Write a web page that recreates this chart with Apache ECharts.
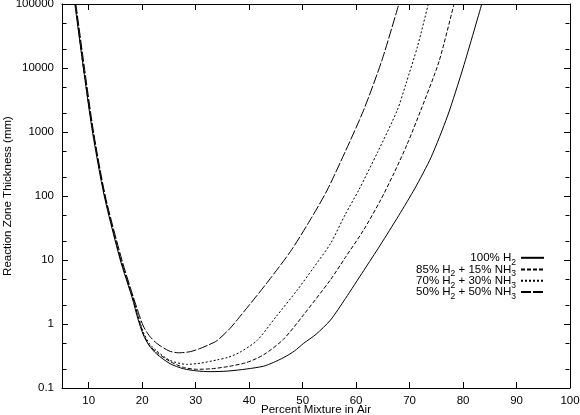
<!DOCTYPE html>
<html><head><meta charset="utf-8">
<script src="https://cdn.jsdelivr.net/npm/echarts@6/dist/echarts.min.js"></script>
<style>html,body{margin:0;padding:0;background:#fff}#c{width:580px;height:415px}</style>
</head><body><div id="c"></div>
<script>
// ---- data ----
const xTicks = [10, 20, 30, 40, 50, 60, 70, 80, 90, 100];
const yMinorTicks = [0.2, 0.5, 2, 5, 20, 50, 200, 500, 2000, 5000, 20000, 50000];
const seriesNames = ['100% H2', '85% H2 + 15% NH3', '70% H2 + 30% NH3', '50% H2 + 50% NH3'];
const legendRich = [
  '{n|100% H}{s|2}',
  '{n|85% H}{s|2}{n| + 15% NH}{s|3}',
  '{n|70% H}{s|2}{n| + 30% NH}{s|3}',
  '{n|50% H}{s|2}{n| + 50% NH}{s|3}'
];
const h2_100 = [[7.4,100000],[9.0,10000],[10.7,1000],[12.9,100],[15.9,10],[18.1,2.6],[19.2,1.2],[20.2,0.68],[21.3,0.46],[22.7,0.34],[25.2,0.24],[27.7,0.2],[30.2,0.185],[32.7,0.18],[36,0.184],[39.5,0.198],[42.7,0.219],[44.5,0.25],[46.5,0.3],[48.5,0.38],[50.2,0.5],[52.5,0.69],[55.2,1.15],[58,2.5],[61.4,6.8],[64.5,17],[68.0,50],[71,132],[74,400],[77.1,1780],[80,10000],[83.5,100000]];
const h2_85 = [[7.5,100000],[9.0,10000],[10.8,1000],[13.0,100],[16.0,10],[18.2,2.6],[19.3,1.25],[20.2,0.7],[21.3,0.47],[22.7,0.36],[25.2,0.26],[27.7,0.21],[30.2,0.196],[33,0.2],[36,0.216],[39.5,0.25],[42.7,0.33],[46.4,0.575],[50.2,1.4],[55.2,4.9],[58,11],[61.4,29.4],[64.6,87],[67.1,229],[69.5,630],[72.1,2190],[75.5,12600],[78.3,100000]];
const h2_70 = [[7.5,100000],[9.1,10000],[10.8,1000],[13.0,100],[16.0,10],[18.2,2.7],[19.3,1.3],[20.2,0.75],[21.3,0.5],[22.7,0.38],[25.2,0.27],[28.3,0.234],[31,0.245],[34,0.275],[36,0.3],[38.3,0.363],[41.45,0.55],[45,1.29],[49.0,3.4],[52,7.5],[55.2,18],[58,52],[60.5,124],[64,480],[67.7,2190],[69.3,5600],[71.5,22000],[73.5,100000]];
const h2_50 = [[7.6,100000],[9.2,10000],[10.9,1000],[13.1,100],[16.2,10],[18.3,2.7],[19.3,1.5],[20.2,0.93],[21.3,0.66],[22.7,0.5],[25,0.38],[26.8,0.355],[29,0.37],[31,0.42],[32.5,0.475],[34,0.55],[36.4,0.85],[38.5,1.38],[41.4,2.75],[43.6,4.7],[47.7,13.5],[51.4,42],[54.6,124],[58,500],[61.4,2190],[64.8,13000],[68.0,100000]];

const seriesData = [h2_100, h2_85, h2_70, h2_50];
const dashes = ['solid', [4, 2], [2, 2], [10, 2]];

const FONT = 'Liberation Sans, Arial, Helvetica, sans-serif';
const X_MIN = 5, X_MAX = 100, Y_MIN = 0.1, Y_MAX = 100000;
const tickStyle = { color: '#000', width: 1 };

const chart = echarts.init(document.getElementById('c'), null, { renderer: 'canvas' });

const series = seriesData.map((d, i) => ({
  name: seriesNames[i],
  type: 'line',
  data: d,
  showSymbol: false,
  symbol: 'none',
  smooth: 0.25,
  animation: false,
  lineStyle: { color: '#000', width: 1, type: dashes[i] },
  itemStyle: { color: '#000' },
  z: 3
}));

series.push({
  type: 'custom',
  name: 'minorTicks',
  silent: true,
  animation: false,
  clip: false,
  data: yMinorTicks.map(v => [X_MIN, v]),
  renderItem: (params, api) => {
    const cs = params.coordSys;
    const y = Math.round(api.coord([X_MIN, api.value(1)])[1]) + 0.5;
    const xl = Math.round(cs.x) + 0.5;
    const xr = Math.round(cs.x + cs.width) - 0.5;
    return {
      type: 'group',
      children: [
        { type: 'line', shape: { x1: xl, y1: y, x2: xl + 4, y2: y }, style: { stroke: '#000', lineWidth: 1 } },
        { type: 'line', shape: { x1: xr - 4, y1: y, x2: xr, y2: y }, style: { stroke: '#000', lineWidth: 1 } }
      ]
    };
  }
});

const rich = {
  n: { fontFamily: FONT, fontSize: 11.5, color: '#000', lineHeight: 12, verticalAlign: 'top' },
  s: { fontFamily: FONT, fontSize: 8.5, color: '#000', lineHeight: 9, padding: [6, 0, 0, 0], verticalAlign: 'top' }
};
const rowCenters = [259.3, 271, 282.3, 293.6];
const legends = seriesNames.map((nm, i) => ({
  data: [nm],
  right: 35,
  top: rowCenters[i] - 7.5,
  orient: 'vertical',
  align: 'right',
  padding: 0,
  itemGap: 0,
  itemWidth: 23,
  itemHeight: 12,
  selectedMode: false,
  itemStyle: { opacity: 0 },
  formatter: () => legendRich[i],
  textStyle: { fontFamily: FONT, fontSize: 11.5, color: '#000', rich: rich }
}));

const option = {
  backgroundColor: '#fff',
  animation: false,
  grid: { left: 62, right: 10, top: 4, bottom: 27, containLabel: false, outerBoundsMode: 'none' },
  legend: legends,
  xAxis: [{
    type: 'value', min: X_MIN, max: X_MAX, position: 'bottom',
    name: 'Percent Mixture in Air', nameLocation: 'middle', nameGap: 16, nameMoveOverlap: false,
    nameTextStyle: { fontFamily: FONT, fontSize: 11.5, color: '#000' },
    axisLine: { show: true, onZero: false, lineStyle: { color: '#000', width: 1 } },
    axisTick: { show: true, inside: true, length: 6, lineStyle: tickStyle, customValues: xTicks },
    axisLabel: { show: true, color: '#000', fontFamily: FONT, fontSize: 11.5, margin: 7, customValues: xTicks },
    splitLine: { show: false }
  }, {
    type: 'value', min: X_MIN, max: X_MAX, position: 'top',
    axisLine: { show: true, onZero: false, lineStyle: { color: '#000', width: 1 } },
    axisTick: { show: true, inside: true, length: 6, lineStyle: tickStyle, customValues: xTicks },
    axisLabel: { show: false, customValues: xTicks },
    splitLine: { show: false }
  }],
  yAxis: [{
    type: 'log', logBase: 10, min: Y_MIN, max: Y_MAX, position: 'left',
    name: 'Reaction Zone Thickness (mm)', nameLocation: 'middle', nameGap: 48, nameMoveOverlap: false,
    nameTextStyle: { fontFamily: FONT, fontSize: 11.5, color: '#000' },
    axisLine: { show: true, onZero: false, lineStyle: { color: '#000', width: 1 } },
    axisTick: { show: true, inside: true, length: 6, lineStyle: tickStyle },
    axisLabel: { show: true, color: '#000', fontFamily: FONT, fontSize: 11.5, margin: 8,
      formatter: v => String(+Number(v).toPrecision(6)) },
    splitLine: { show: false },
    minorTick: { show: false }
  }, {
    type: 'log', logBase: 10, min: Y_MIN, max: Y_MAX, position: 'right',
    axisLine: { show: true, onZero: false, lineStyle: { color: '#000', width: 1 } },
    axisTick: { show: true, inside: true, length: 6, lineStyle: tickStyle },
    axisLabel: { show: false },
    splitLine: { show: false }
  }],
  series: series
};
chart.setOption(option);
</script>
</body></html>
